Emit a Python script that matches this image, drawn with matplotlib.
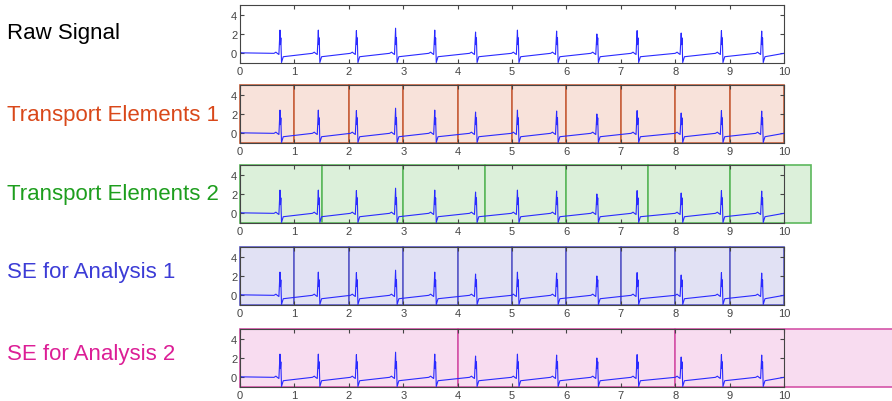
import matplotlib
matplotlib.use('Agg')
import matplotlib.pyplot as plt
from matplotlib.patches import Rectangle

plt.rcParams['font.family'] = ['Liberation Sans', 'DejaVu Sans']

# R-peak times (s) and heights
beat_times = [0.735, 1.44, 2.14, 2.86, 3.58, 4.33, 5.10, 5.82, 6.56, 7.30, 8.11, 8.85, 9.59]
beat_peaks = [2.4, 2.4, 2.35, 2.6, 2.4, 2.2, 2.4, 2.3, 2.0, 2.35, 2.1, 2.35, 2.3]

# one beat: offsets from the R peak and values (peak value replaced per beat)
beat_dt = [-0.11, -0.075, -0.05, -0.02, 0.0, 0.008, 0.016, 0.028, 0.06]
beat_val = [0.0, 0.12, 0.0, -0.12, None, 0.9, 1.6, -0.95, -0.35]

start_t = [0.0, 0.005, 0.01, 0.03]
start_v = [0.1, 0.3, 0.1, 0.05]
end_t = [10.0]
end_v = [0.0]

labels = ['Raw Signal', 'Transport Elements 1', 'Transport Elements 2',
          'SE for Analysis 1', 'SE for Analysis 2']
label_colors = ['black', '#d9481a', '#1e9e1e', '#3c3cd6', '#dc1e96']

# window boundaries of each row (None = no windows)
windows = [None,
           [0, 1, 2, 3, 4, 5, 6, 7, 8, 9, 10],
           [0, 1.5, 3, 4.5, 6, 7.5, 9, 10.5],
           [0, 1, 2, 3, 4, 5, 6, 7, 8, 9, 10],
           [0, 4, 8, 12]]
fill_colors = [None, '#f8e2da', '#dcf0da', '#e1e1f4', '#f8dcf0']
edge_colors = [None, '#c8623e', '#5cb85c', '#5c5cc8', '#d454a8']

# build the signal from the listed knots
sig_t = list(start_t)
sig_v = list(start_v)
for t, p in zip(beat_times, beat_peaks):
    for dt, v in zip(beat_dt, beat_val):
        sig_t.append(t + dt)
        sig_v.append(p if v is None else v)
sig_t += end_t
sig_v += end_v

fig = plt.figure(figsize=(8.92, 4.02), dpi=100)

row_top = [6, 86, 166, 248, 330]
label_y = [33, 115, 195, 273, 355]
ax_left = 240 / 892
ax_w = 544 / 892
ax_h = 58 / 402

for i in range(5):
    ax = fig.add_axes([ax_left, 1 - (row_top[i] + 58) / 402, ax_w, ax_h])
    if windows[i] is not None:
        w = windows[i]
        for a, b in zip(w[:-1], w[1:]):
            ax.add_patch(Rectangle((a, -1), b - a, 6, facecolor=fill_colors[i],
                                   edgecolor=edge_colors[i], lw=1.2,
                                   clip_on=False, zorder=0))
    ax.plot(sig_t, sig_v, color='#2a2aff', lw=0.8, zorder=2)
    ax.set_xlim(0, 10)
    ax.set_ylim(-1, 5)
    ax.set_xticks(range(0, 11))
    ax.set_yticks([0, 2, 4])
    ax.tick_params(direction='in', top=True, right=True, length=3,
                   labelsize=8, colors='#444444', pad=2)
    for s in ax.spines.values():
        s.set_color('#444444')
        s.set_linewidth(0.8)
    ax.patch.set_alpha(0)
    fig.text(7 / 892, 1 - label_y[i] / 402, labels[i], color=label_colors[i],
             fontsize=16, va='center', ha='left')

fig.savefig('out.png', dpi=100)
